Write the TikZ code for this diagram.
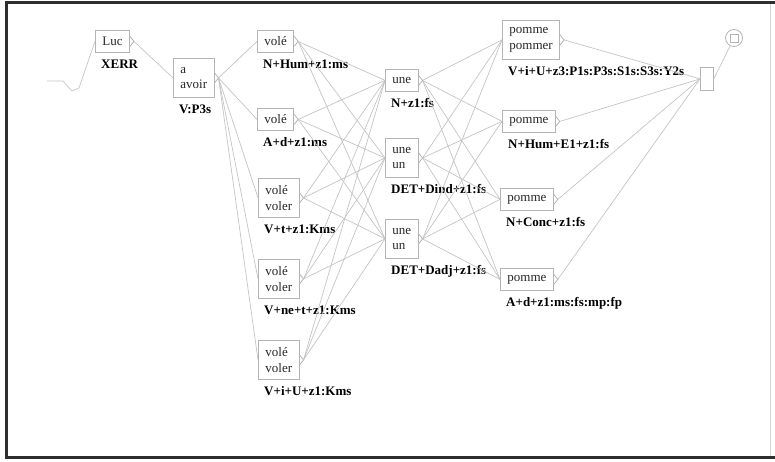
\documentclass[tikz,border=0pt]{standalone}
\usepackage{fontspec}
\setmainfont{Liberation Serif}
\definecolor{boxgray}{HTML}{B4B4B4}
\definecolor{edgegray}{HTML}{C4C4C4}
\definecolor{framegray}{HTML}{2E2E2E}
\definecolor{inkgray}{HTML}{262626}
\begin{document}
\begin{tikzpicture}[x=1pt,y=-1pt,
  box/.style={draw=boxgray, line width=0.8pt, anchor=north west, inner xsep=7pt,
    inner ysep=0pt, align=left, text=inkgray, font=\fontsize{13}{15.5}\selectfont},
  onerow/.style={minimum height=22pt},
  tworow/.style={minimum height=39pt},
  lab/.style={anchor=base west, inner sep=0pt, font=\fontsize{13}{15}\selectfont\bfseries},
  edge/.style={draw=edgegray, line width=0.7pt},
  tip/.style={draw=boxgray, line width=0.8pt},
  frameline/.style={draw=framegray, line width=2.4pt}
]
\useasboundingbox (0,0) rectangle (775,461);

% outer frame
\draw[frameline] (5,2.5) -- (775,2.5);
\draw[frameline] (6.5,2.5) -- (6.5,457.5);
\draw[frameline] (5,457.5) -- (775,457.5);
\draw[draw=boxgray!60, line width=0.6pt] (770,4) -- (770,456);

% initial state
\coordinate (init) at (79,88);
\draw[edge] (47,81) -- (63,81) -- (72,91) -- (init);

% boxes
\node[box, onerow] (luc)   at (95,30)   {Luc};
\node[box, tworow] (avoir) at (173,58)  {a\\avoir};
\node[box, onerow] (v1)    at (257,30)  {volé};
\node[box, onerow] (v2)    at (257,108) {volé};
\node[box, tworow] (v3)    at (258,178) {volé\\voler};
\node[box, tworow] (v4)    at (258,259) {volé\\voler};
\node[box, tworow] (v5)    at (258,340) {volé\\voler};
\node[box, onerow] (u1)    at (385,69)  {une};
\node[box, tworow] (u2)    at (385,138) {une\\un};
\node[box, tworow] (u3)    at (385,219) {une\\un};
\node[box, tworow] (p1)    at (502,20)  {pomme\\pommer};
\node[box, onerow] (p2)    at (502,110) {pomme};
\node[box, onerow] (p3)    at (500,188) {pomme};
\node[box, onerow] (p4)    at (500,268) {pomme};
\node[draw=boxgray, line width=0.8pt, anchor=north west, minimum width=13pt,
      minimum height=23pt, inner sep=0pt] (last) at (700,67) {};
\node[draw=boxgray, line width=0.8pt, circle, minimum size=17pt, inner sep=0pt] (final) at (734,38) {};
\node[draw=boxgray, line width=0.8pt, minimum size=8pt, inner sep=0pt] (finalsq) at (final.center) {};

% lexical codes under the boxes
\foreach \b/\t in {luc/XERR, avoir/V:P3s, v1/N+Hum+z1:ms, v2/A+d+z1:ms,
    v3/V+t+z1:Kms, v4/V+ne+t+z1:Kms, v5/V+i+U+z1:Kms, u1/N+z1:fs,
    u2/DET+Dind+z1:fs, u3/DET+Dadj+z1:fs, p1/V+i+U+z3:P1s:P3s:S1s:S3s:Y2s,
    p2/N+Hum+E1+z1:fs, p3/N+Conc+z1:fs, p4/A+d+z1:ms:fs:mp:fp}
  \node[lab] (\b lab) at ([xshift=6pt,yshift=-16pt]\b.south west) {\t};

% output tips on the right side of the boxes
\foreach \b in {luc,avoir,v1,v2,v3,v4,v5,u1,u2,u3,p1,p2,p3,p4}
  \draw[tip] ([yshift=5pt]\b.east) -- ([xshift=4pt]\b.east) -- ([yshift=-5pt]\b.east);

% transitions
\draw[edge] (init) -- (luc.west);
\draw[edge] ([xshift=4pt]luc.east) -- (avoir.west);
\foreach \v in {v1,v2,v3,v4,v5}
  \draw[edge] ([xshift=4pt]avoir.east) -- (\v.west);
\foreach \v in {v1,v2,v3,v4,v5}
  \foreach \u in {u1,u2,u3}
    \draw[edge] ([xshift=4pt]\v.east) -- (\u.west);
\foreach \u in {u1,u2,u3}
  \foreach \p in {p1,p2,p3,p4}
    \draw[edge] ([xshift=4pt]\u.east) -- (\p.west);
\foreach \p in {p1,p2,p3,p4}
  \draw[edge] ([xshift=4pt]\p.east) -- (last.west);
\draw[edge] (last.east) -- (final);
\end{tikzpicture}
\end{document}
